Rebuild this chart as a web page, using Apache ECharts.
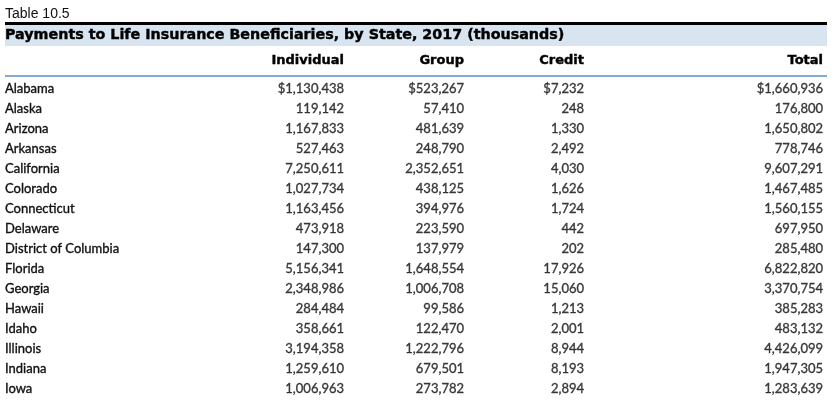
<!DOCTYPE html>
<html><head><meta charset="utf-8">
<script src="https://cdn.jsdelivr.net/npm/echarts@6/dist/echarts.min.js"></script>
<style>html,body{margin:0;padding:0;background:#fff}#c{width:835px;height:400px}</style>
</head><body><div id="c"></div>
<script>
const tableLabel = 'Table 10.5';
const titleText = 'Payments to Life Insurance Beneficiaries, by State, 2017 (thousands)';
const columns = ['Individual', 'Group', 'Credit', 'Total'];
const states = ['Alabama','Alaska','Arizona','Arkansas','California','Colorado','Connecticut','Delaware','District of Columbia','Florida','Georgia','Hawaii','Idaho','Illinois','Indiana','Iowa'];
const individual = [1130438,119142,1167833,527463,7250611,1027734,1163456,473918,147300,5156341,2348986,284484,358661,3194358,1259610,1006963];
const group = [523267,57410,481639,248790,2352651,438125,394976,223590,137979,1648554,1006708,99586,122470,1222796,679501,273782];
const credit = [7232,248,1330,2492,4030,1626,1724,442,202,17926,15060,1213,2001,8944,8193,2894];
const total = [1660936,176800,1650802,778746,9607291,1467485,1560155,697950,285480,6822820,3370754,385283,483132,4426099,1947305,1283639];

const COL_RIGHT = [344, 464, 584, 823];
const BODY_FONT = 'Lato';
const HEAD_FONT = '"DejaVu Sans"';
const fmt = (v, i) => (i === 0 ? '$' : '') + v.toLocaleString('en-US');

const bodyText = {
  fontFamily: BODY_FONT, fontSize: 13, color: '#111',
  textBorderColor: '#111', textBorderWidth: 0.35
};

const valueCols = [individual, group, credit, total];
const series = valueCols.map((vals, c) => ({
  type: 'scatter',
  symbolSize: 0,
  silent: true,
  data: states.map((s, i) => [COL_RIGHT[c], s, vals[i]]),
  label: Object.assign({
    show: true,
    position: 'left',
    distance: 0,
    formatter: p => fmt(p.value[2], p.dataIndex)
  }, bodyText)
}));

const headStyle = { fill: '#000', stroke: '#000', lineWidth: 0.4 };
const graphic = [
  { type: 'text', x: 5, y: 14, style: { text: tableLabel, font: '14px "Liberation Sans"', fill: '#111', align: 'left', verticalAlign: 'middle' } },
  { type: 'rect', shape: { x: 5, y: 22, width: 822, height: 3 }, style: { fill: '#000' } },
  { type: 'rect', shape: { x: 5, y: 25, width: 822, height: 21 }, style: { fill: '#d8e4f0' } },
  { type: 'text', x: 5, y: 35.5, style: Object.assign({ text: titleText, font: 'bold 14.3px ' + HEAD_FONT, align: 'left', verticalAlign: 'middle' }, headStyle) },
  { type: 'line', shape: { x1: 5, y1: 76, x2: 827, y2: 76 }, style: { stroke: '#5b8fcb', lineWidth: 1.5 } }
].concat(columns.map((name, c) => ({
  type: 'text', x: COL_RIGHT[c], y: 61,
  style: Object.assign({ text: name, font: 'bold 13px ' + HEAD_FONT, align: 'right', verticalAlign: 'middle' }, headStyle)
})));

const chart = echarts.init(document.getElementById('c'), null, { renderer: 'canvas' });
chart.setOption({
  animation: false,
  backgroundColor: '#fff',
  grid: { left: 0, right: 0, top: 79, height: 320 },
  xAxis: { type: 'value', min: 0, max: 835, show: false },
  yAxis: {
    type: 'category', data: states, inverse: true,
    axisLine: { show: false }, axisTick: { show: false }, splitLine: { show: false },
    axisLabel: Object.assign({ inside: true, margin: 5 }, bodyText)
  },
  graphic: graphic,
  series: series
});
</script></body></html>
